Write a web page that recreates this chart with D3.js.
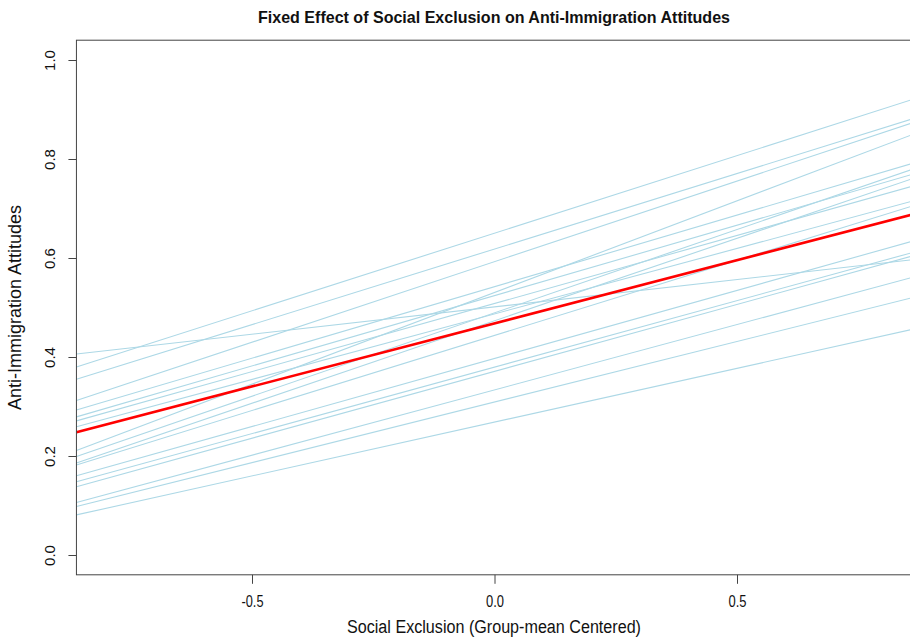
<!DOCTYPE html>
<html>
<head>
<meta charset="utf-8">
<script src="https://cdn.jsdelivr.net/npm/d3@7"></script>
<style>
  body { margin: 0; background: #fff; }
  svg { display: block; }
  text { font-family: "Liberation Sans Narrow", "Liberation Sans", Arial, sans-serif; }
</style>
</head>
<body>
<svg id="chart" width="910" height="639"></svg>
<script>
// ---- data ----
const xTicks = [-0.5, 0.0, 0.5];
const xTickLabels = ["-0.5", "0.0", "0.5"];
const yTicks = [0.0, 0.2, 0.4, 0.6, 0.8, 1.0];
const yTickLabels = ["0.0", "0.2", "0.4", "0.6", "0.8", "1.0"];
const xExtent = [-0.862, 0.858];           // x range spanned by each drawn line
// group (random-slope) lines: value at left end and at right end
const groupStart = [0.380, 0.355, 0.312, 0.406, 0.293, 0.279, 0.271, 0.259,
                    0.211, 0.199, 0.186, 0.182, 0.160, 0.148, 0.138, 0.106, 0.098, 0.081];
const groupEnd   = [0.919, 0.880, 0.872, 0.596, 0.790, 0.768, 0.744, 0.714,
                    0.848, 0.778, 0.759, 0.704, 0.633, 0.610, 0.603, 0.560, 0.519, 0.455];
// fixed effect line
const fixedStart = 0.248;
const fixedEnd = 0.687;

const titleText = "Fixed Effect of Social Exclusion on Anti-Immigration Attitudes";
const xLabel = "Social Exclusion (Group-mean Centered)";
const yLabel = "Anti-Immigration Attitudes";

// ---- layout ----
const svg = d3.select("#chart");
const x = d3.scaleLinear().domain([-0.5, 0.5]).range([252, 737]);
const y = d3.scaleLinear().domain([0, 1]).range([555, 60]);
const boxLeft = x(-0.862), boxRight = 915, boxTop = y(1.04), boxBottom = y(-0.04);

svg.append("clipPath").attr("id", "plotclip")
  .append("rect").attr("x", boxLeft).attr("y", boxTop)
  .attr("width", boxRight - boxLeft).attr("height", boxBottom - boxTop);

const plot = svg.append("g").attr("clip-path", "url(#plotclip)");

const lineGen = d3.line().x(d => x(d[0])).y(d => y(d[1]));

plot.selectAll("path.group")
  .data(groupStart.map((s, i) => [[xExtent[0], s], [xExtent[1], groupEnd[i]]]))
  .join("path")
  .attr("class", "group")
  .attr("d", lineGen)
  .attr("fill", "none")
  .attr("stroke", "#add8e6")
  .attr("stroke-width", 1.1);

plot.append("path")
  .attr("d", lineGen([[xExtent[0], fixedStart], [xExtent[1], fixedEnd]]))
  .attr("fill", "none")
  .attr("stroke", "#ff0000")
  .attr("stroke-width", 2.6);

// box
svg.append("rect")
  .attr("x", boxLeft).attr("y", boxTop)
  .attr("width", boxRight - boxLeft).attr("height", boxBottom - boxTop)
  .attr("fill", "none").attr("stroke", "#444").attr("stroke-width", 1);

// x axis
const xAxis = d3.axisBottom(x).tickValues(xTicks)
  .tickFormat((d, i) => xTickLabels[i]).tickSize(9).tickPadding(12);
const gx = svg.append("g").attr("transform", `translate(0,${boxBottom})`).call(xAxis);
gx.select(".domain").remove();
gx.selectAll("line").attr("stroke", "#444");
gx.selectAll("text").attr("font-size", 16).attr("fill", "#111")
  .attr("textLength", (d, i) => xTickLabels[i].length === 4 ? 22 : 18)
  .attr("lengthAdjust", "spacingAndGlyphs");

// y axis
const yAxis = d3.axisLeft(y).tickValues(yTicks)
  .tickFormat((d, i) => yTickLabels[i]).tickSize(8).tickPadding(0);
const gy = svg.append("g").attr("transform", `translate(${boxLeft},0)`).call(yAxis);
gy.select(".domain").remove();
gy.selectAll("line").attr("stroke", "#444");
gy.selectAll("text")
  .attr("font-size", 15).attr("fill", "#111")
  .attr("text-anchor", "middle")
  .attr("x", 0).attr("dy", null)
  .attr("transform", "translate(-21,0) rotate(-90)")
  .attr("y", 0)
  .style("font-family", '"Liberation Sans", sans-serif');

// title
svg.append("text")
  .attr("x", 494).attr("y", 23)
  .attr("text-anchor", "middle")
  .attr("font-size", 17).attr("font-weight", "bold").attr("fill", "#111")
  .attr("textLength", 472).attr("lengthAdjust", "spacingAndGlyphs")
  .text(titleText);

// x label
svg.append("text")
  .attr("x", 494).attr("y", 633)
  .attr("text-anchor", "middle")
  .attr("font-size", 18).attr("fill", "#111")
  .attr("textLength", 294).attr("lengthAdjust", "spacingAndGlyphs")
  .text(xLabel);

// y label
svg.append("text")
  .attr("transform", `translate(21,${y(0.5)}) rotate(-90)`)
  .attr("text-anchor", "middle")
  .attr("font-size", 18).attr("fill", "#111")
  .style("font-family", '"Liberation Sans", sans-serif')
  .text(yLabel);
</script>
</body>
</html>
